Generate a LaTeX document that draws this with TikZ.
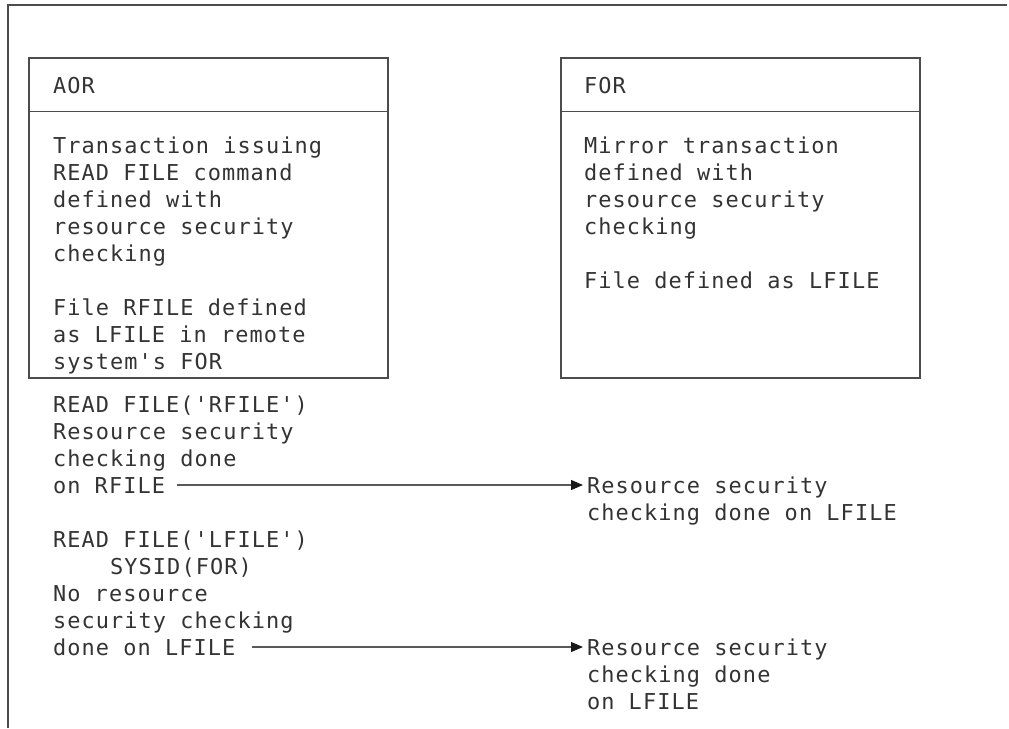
\documentclass[tikz,border=0pt]{standalone}
\usepackage{fontspec}
\setmonofont[LetterSpace=5]{DejaVu Sans Mono}
\usetikzlibrary{arrows.meta,calc}
\newcommand\mylin[1]{\hbox{#1}}
\newcommand\myblk[1]{\vtop{\baselineskip=27pt\lineskiplimit=-100pt\lineskip=0pt #1}}
\begin{document}
\begin{tikzpicture}[x=1pt,y=-1pt,
  frame/.style={draw=black!70, line width=1.1pt},
  box/.style={draw=black!70, line width=1.1pt, inner sep=0pt, minimum width=359pt, minimum height=320pt},
  txt/.style={anchor=base west, inner sep=0pt, outer sep=0pt, text=black!80,
    font=\ttfamily\fontsize{21.9}{27}\selectfont},
  arr/.style={draw=black!65, line width=1.1pt, -{Triangle[length=12pt,width=10pt,color=black!90]}}]
\useasboundingbox (0,0) rectangle (1009,728);
% outer frame
\coordinate (fbl) at (8,728);
\coordinate (ftl) at (8,5);
\coordinate (ftr) at (1007,5);
\draw[frame] (fbl) -- (ftl) -- (ftr);
% boxes
\node[box] (aor) at (208.5,218) {};
\node[box] (for) at (740.5,218) {};
\draw[frame] ([yshift=-54pt]aor.north west) -- ([yshift=-54pt]aor.north east);
\draw[frame] ([yshift=-54pt]for.north west) -- ([yshift=-54pt]for.north east);
% headers
\node[txt] (aorh) at (53,93) {AOR};
\node[txt] (forh) at (584,93) {FOR};
% box bodies
\node[txt] (aorb) at (53,153) {\myblk{%
  \mylin{Transaction issuing}
  \mylin{READ FILE command}
  \mylin{defined with}
  \mylin{resource security}
  \mylin{checking}
  \mylin{}
  \mylin{File RFILE defined}
  \mylin{as LFILE in remote}
  \mylin{system's FOR}}};
\node[txt] (forb) at (584,153) {\myblk{%
  \mylin{Mirror transaction}
  \mylin{defined with}
  \mylin{resource security}
  \mylin{checking}
  \mylin{}
  \mylin{File defined as LFILE}}};
% lower left text
\node[txt] (l1) at (53,412) {\myblk{%
  \mylin{READ FILE('RFILE')}
  \mylin{Resource security}
  \mylin{checking done}
  \mylin{on RFILE}}};
\node[txt] (l2) at (53,547) {\myblk{%
  \mylin{READ FILE('LFILE')}
  \mylin{\ \ \ \ SYSID(FOR)}
  \mylin{No resource}
  \mylin{security checking}
  \mylin{done on LFILE}}};
% right text
\node[txt] (r1) at (587,493) {\myblk{%
  \mylin{Resource security}
  \mylin{checking done on LFILE}}};
\node[txt] (r2) at (587,655) {\myblk{%
  \mylin{Resource security}
  \mylin{checking done}
  \mylin{on LFILE}}};
% arrows
\coordinate (a1s) at (177,485);
\coordinate (a1e) at ($(r1.base west)+(-4,-8)$);
\coordinate (a2s) at (252,647);
\coordinate (a2e) at ($(r2.base west)+(-4,-8)$);
\draw[arr] (a1s) -- (a1e);
\draw[arr] (a2s) -- (a2e);
\end{tikzpicture}
\end{document}
